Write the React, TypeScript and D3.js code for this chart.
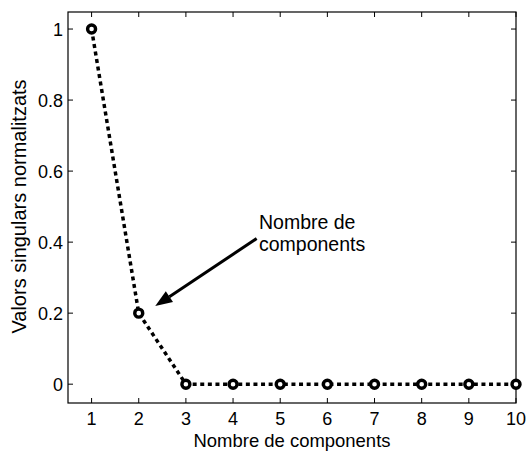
import React from "react";
import * as d3 from "d3";

const components = [1, 2, 3, 4, 5, 6, 7, 8, 9, 10];
const singularValues = [1, 0.2, 0, 0, 0, 0, 0, 0, 0, 0];
const xTicks = [1, 2, 3, 4, 5, 6, 7, 8, 9, 10];
const yTicks = [0, 0.2, 0.4, 0.6, 0.8, 1];
const annotationLines = ["Nombre de", "components"];
const arrowFrom = [4.5, 0.41];
const arrowTo = [2.35, 0.22];
const annotationAt = [4.55, 0.437];

const W = 527;
const H = 452;
const margin = { top: 12, right: 11, bottom: 49, left: 68 };
const font = "'Liberation Sans', Arial, Helvetica, sans-serif";

const App = () => {
  const x = d3
    .scaleLinear()
    .domain([0.5, 10])
    .range([margin.left, W - margin.right]);
  const y = d3
    .scaleLinear()
    .domain([-0.053, 1.048])
    .range([H - margin.bottom, margin.top]);

  const line = d3
    .line<number>()
    .x((_, i) => x(components[i]))
    .y(d => y(d));

  const [x0, x1] = x.range();
  const [y0, y1] = y.range();
  const fmt = d3.format("~g");

  // arrow geometry
  const ax1 = x(arrowFrom[0]);
  const ay1 = y(arrowFrom[1]);
  const ax2 = x(arrowTo[0]);
  const ay2 = y(arrowTo[1]);
  const ang = Math.atan2(ay2 - ay1, ax2 - ax1);
  const headLen = 17;
  const headW = 6.5;
  const bx = ax2 - headLen * Math.cos(ang);
  const by = ay2 - headLen * Math.sin(ang);
  const head = [
    [ax2, ay2],
    [bx + headW * Math.sin(ang), by - headW * Math.cos(ang)],
    [bx - headW * Math.sin(ang), by + headW * Math.cos(ang)]
  ];

  return (
    <svg
      width={W}
      height={H}
      style={{ position: "absolute", left: 0, top: 0, background: "#fff" }}
      fontFamily={font}
    >
      <rect x={0} y={0} width={W} height={H} fill="#fff" />

      {/* ticks, inward on all sides */}
      {xTicks.map(t => (
        <g key={"x" + t}>
          <line x1={x(t)} x2={x(t)} y1={y0} y2={y0 - 5} stroke="#000" />
          <line x1={x(t)} x2={x(t)} y1={y1} y2={y1 + 5} stroke="#000" />
          <text x={x(t)} y={y0 + 22} textAnchor="middle" fontSize={18}>
            {t}
          </text>
        </g>
      ))}
      {yTicks.map(t => (
        <g key={"y" + t}>
          <line x1={x0} x2={x0 + 5} y1={y(t)} y2={y(t)} stroke="#000" />
          <line x1={x1} x2={x1 - 5} y1={y(t)} y2={y(t)} stroke="#000" />
          <text
            x={x0 - 5}
            y={y(t)}
            dy="0.36em"
            textAnchor="end"
            fontSize={18}
          >
            {fmt(t)}
          </text>
        </g>
      ))}

      {/* axes box */}
      <rect
        x={x0}
        y={y1}
        width={x1 - x0}
        height={y0 - y1}
        fill="none"
        stroke="#000"
        strokeWidth={1.2}
      />

      {/* dotted series */}
      <path
        d={line(singularValues) || ""}
        fill="none"
        stroke="#000"
        strokeWidth={3.5}
        strokeDasharray="4,3.6"
      />
      {singularValues.map((v, i) => (
        <circle
          key={i}
          cx={x(components[i])}
          cy={y(v)}
          r={4}
          fill="#fff"
          stroke="#000"
          strokeWidth={3.4}
        />
      ))}

      {/* annotation */}
      <line
        x1={ax1}
        y1={ay1}
        x2={bx}
        y2={by}
        stroke="#000"
        strokeWidth={3}
      />
      <polygon points={head.map(p => p.join(",")).join(" ")} fill="#000" />
      <text x={x(annotationAt[0])} y={y(annotationAt[1])} fontSize={19.5}>
        {annotationLines.map((l, i) => (
          <tspan key={i} x={x(annotationAt[0])} dy={i === 0 ? 0 : 22}>
            {l}
          </tspan>
        ))}
      </text>

      {/* axis labels */}
      <text
        x={(x0 + x1) / 2}
        y={H - 5}
        textAnchor="middle"
        fontSize={18.5}
        textLength={197}
        lengthAdjust="spacingAndGlyphs"
      >
        Nombre de components
      </text>
      <text
        transform={`translate(${26},${(y0 + y1) / 2 - 1}) rotate(-90)`}
        textAnchor="middle"
        fontSize={20}
      >
        Valors singulars normalitzats
      </text>
    </svg>
  );
};

export default App;
